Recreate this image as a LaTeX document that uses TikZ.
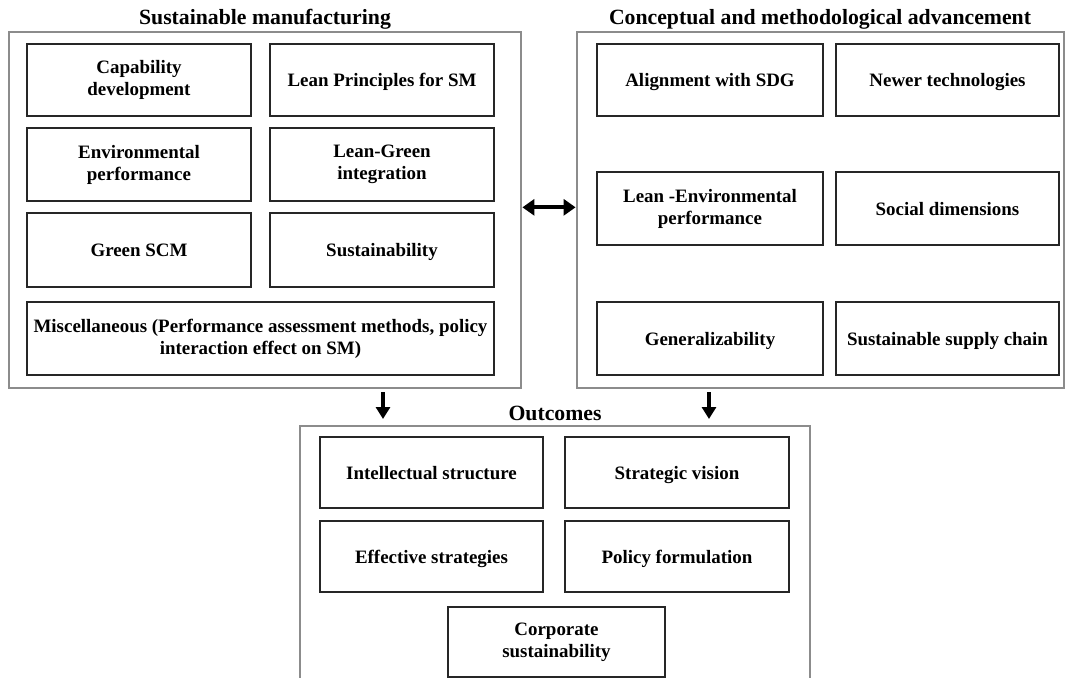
\documentclass[tikz,border=0pt]{standalone}
\usepackage{fontspec}
\setmainfont{Liberation Serif}
\usetikzlibrary{arrows.meta}
\begin{document}
\begin{tikzpicture}[x=0.75pt,y=-0.75pt,
  outer/.style={draw=black!45, line width=1.1pt, inner sep=0pt},
  inbox/.style={draw=black!85, line width=1.1pt, align=center, inner sep=0pt,
    font=\bfseries\fontsize{14.2}{16.5}\selectfont},
  one/.style={inbox, text depth=0pt},
  ttl/.style={font=\bfseries\fontsize{16.3}{18}\selectfont, inner sep=0pt},
  dbl/.style={line width=3pt, {Triangle[length=9pt,width=12pt]}-{Triangle[length=9pt,width=12pt]}, shorten <=0.5pt, shorten >=0.5pt},
  down/.style={line width=2.4pt, -{Triangle[length=9pt,width=10.5pt]}}
]
\useasboundingbox (0,0) rectangle (1065,678);
% outer boxes
\node[outer, minimum width=384pt, minimum height=267pt] (sm) at (265,210) {};
\node[outer, minimum width=365.25pt, minimum height=267pt] (cm) at (820.5,210) {};
\node[outer, minimum width=382.5pt, minimum height=210pt] (oc) at (555,566) {};
% titles
\node[ttl] (tsm) at (265,19) {Sustainable manufacturing};
\node[ttl] (tcm) at (820,19) {Conceptual and methodological advancement};
\node[ttl] (toc) at (555,413) {Outcomes};
% left inner
\node[inbox, minimum width=168pt, minimum height=54pt] (cap) at (139,80) {Capability\\development};
\node[one, minimum width=168pt, minimum height=54pt] (lean) at (382,80) {Lean Principles for SM};
\node[inbox, minimum width=168pt, minimum height=54.75pt] (env) at (139,164.5) {Environmental\\performance};
\node[inbox, minimum width=168pt, minimum height=54.75pt] (lg) at (382,164.5) {Lean-Green\\integration};
\node[one, minimum width=168pt, minimum height=55.5pt] (gscm) at (139,250) {Green SCM};
\node[one, minimum width=168pt, minimum height=55.5pt] (sus) at (382,250) {Sustainability};
\node[inbox, minimum width=350.25pt, minimum height=54.75pt] (misc) at (260.5,338.5) {Miscellaneous (Performance assessment methods, policy\\interaction effect on SM)};
% right inner
\node[one, minimum width=169.5pt, minimum height=54pt] (sdg) at (710,80) {Alignment with SDG};
\node[one, minimum width=167.25pt, minimum height=54pt] (newt) at (947.5,80) {Newer technologies};
\node[inbox, minimum width=169.5pt, minimum height=54.75pt] (lep) at (710,208.5) {Lean -Environmental\\performance};
\node[one, minimum width=167.25pt, minimum height=54.75pt] (soc) at (947.5,208.5) {Social dimensions};
\node[one, minimum width=169.5pt, minimum height=54.75pt] (gen) at (710,338.5) {Generalizability};
\node[one, minimum width=167.25pt, minimum height=54.75pt] (ssc) at (947.5,338.5) {Sustainable supply chain};
% outcomes inner
\node[one, minimum width=167.25pt, minimum height=53.25pt] (is) at (431.5,472.5) {Intellectual structure};
\node[one, minimum width=168pt, minimum height=53.25pt] (sv) at (677,472.5) {Strategic vision};
\node[one, minimum width=167.25pt, minimum height=53.25pt] (es) at (431.5,556.5) {Effective strategies};
\node[one, minimum width=168pt, minimum height=53.25pt] (pf) at (677,556.5) {Policy formulation};
\node[inbox, minimum width=162.75pt, minimum height=52.5pt] (cs) at (556.5,642) {Corporate\\sustainability};
% arrows
\draw[dbl] ([yshift=2pt]sm.east) -- ([yshift=2pt]cm.west);
\coordinate (d1a) at (383,392);
\coordinate (d1b) at (383,419);
\coordinate (d2a) at (709,392);
\coordinate (d2b) at (709,419);
\draw[down] (d1a) -- (d1b);
\draw[down] (d2a) -- (d2b);
\end{tikzpicture}
\end{document}
